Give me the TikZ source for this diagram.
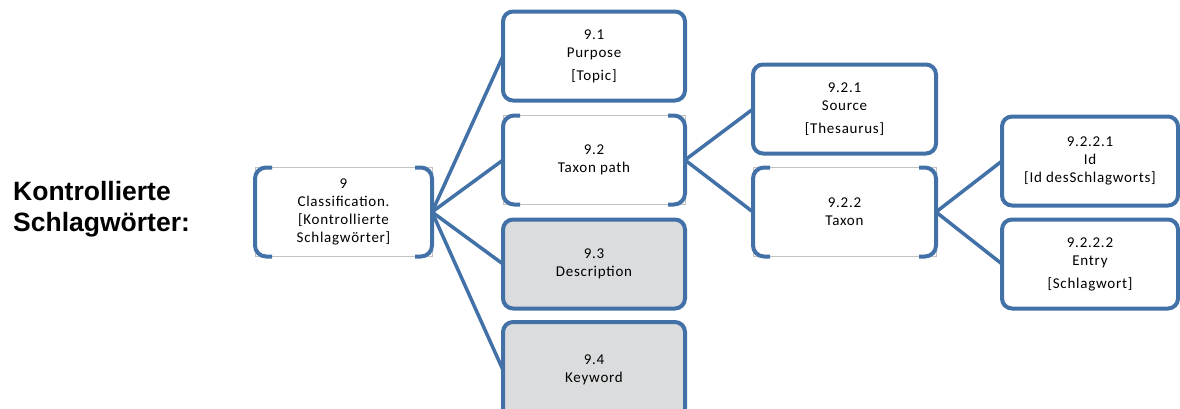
\documentclass[tikz,border=0pt]{standalone}
\usepackage{fontspec}
\setmainfont[LetterSpace=5]{Carlito}
\newfontfamily\labelfont{Liberation Sans}
\definecolor{boxblue}{RGB}{66,113,168}
\definecolor{boxgray}{RGB}{219,220,221}
\definecolor{rimgray}{RGB}{195,195,195}

\tikzset{
  leaf/.style={draw=boxblue, line width=4pt, rounded corners=10pt, fill=white,
    minimum width=182pt, minimum height=89pt, inner sep=0pt, outer sep=0pt,
    align=center, font=\fontsize{15}{18}\selectfont},
  shadedleaf/.style={leaf, fill=boxgray},
  parent/.style={leaf, draw=rimgray, line width=0.8pt, rounded corners=0pt},
  link/.style={draw=boxblue, line width=3.5pt}
}
\newcommand{\brackets}[1]{%
  \draw[boxblue, line width=4pt, rounded corners=11pt]
    ([xshift=17pt]#1.north west) -- (#1.north west) -- (#1.south west) -- ([xshift=17pt]#1.south west);
  \draw[boxblue, line width=4pt, rounded corners=11pt]
    ([xshift=-17pt]#1.north east) -- (#1.north east) -- (#1.south east) -- ([xshift=-17pt]#1.south east);
}

\begin{document}
\begin{tikzpicture}[x=1pt,y=-1pt]
\useasboundingbox (0,0) rectangle (1180,408);
\clip (0,0) rectangle (1180,408);

\node[anchor=west, align=left, inner sep=0pt, font=\labelfont\bfseries\fontsize{26.5}{31}\selectfont] (title) at (13,209.5) {Kontrollierte\\Schlagwörter:};

\node[parent, minimum width=177pt] (c9) at (343.5,212) {9\\Classification.\\{[}Kontrollierte\\Schlagwörter{]}};

\node[leaf] (c91) at (594,56) {9.1\\Purpose\\[5pt]{[}Topic{]}};
\node[parent] (c92) at (594,160) {9.2\\Taxon path};
\node[shadedleaf] (c93) at (594,264) {9.3\\Description};
\node[shadedleaf, minimum height=96pt] (c94) at (594,370) {9.4\\Keyword};

\node[leaf, minimum width=183pt] (c921) at (844.5,109) {9.2.1\\Source\\[5pt]{[}Thesaurus{]}};
\node[parent, minimum width=183pt] (c922) at (844.5,212) {9.2.2\\Taxon};

\node[leaf, minimum width=176pt] (c9221) at (1090,161) {9.2.2.1\\Id\\{[}Id desSchlagworts{]}};
\node[leaf, minimum width=176pt] (c9222) at (1090,264) {9.2.2.2\\Entry\\[5pt]{[}Schlagwort{]}};

\brackets{c9}
\brackets{c92}
\brackets{c922}

\draw[link] (c9.east) -- (c91.west);
\draw[link] (c9.east) -- (c92.west);
\draw[link] (c9.east) -- (c93.west);
\draw[link] (c9.east) -- (c94.west);
\draw[link] (c92.east) -- (c921.west);
\draw[link] (c92.east) -- (c922.west);
\draw[link] (c922.east) -- (c9221.west);
\draw[link] (c922.east) -- (c9222.west);
\end{tikzpicture}
\end{document}
